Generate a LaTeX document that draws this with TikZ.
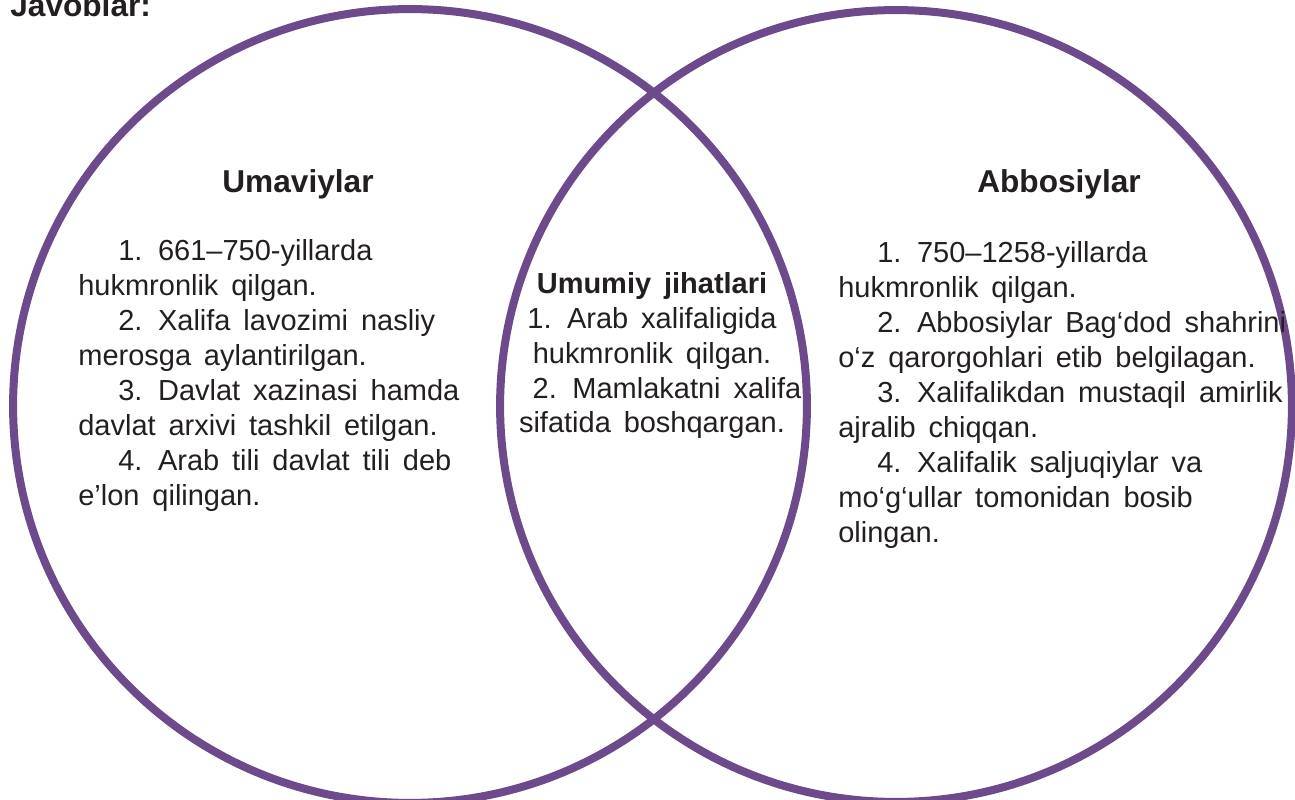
\documentclass[tikz,border=0pt]{standalone}
\usepackage{fontspec}
\setmainfont[WordSpace=1.6]{Liberation Sans}
\definecolor{venn}{RGB}{108,74,140}
\definecolor{ink}{RGB}{35,31,32}

\begin{document}
\begin{tikzpicture}[x=0.02cm, y=-0.02cm,
        ring/.style = {draw=venn, line width=0.16cm},
        head/.style = {font=\fontsize{18}{22}\selectfont\bfseries, text=ink, anchor=base, inner sep=0pt},
        body/.style = {font=\fontsize{16.5}{19.9}\selectfont, text=ink, align=left, anchor=base west, inner sep=0pt} ]
        \useasboundingbox (0,0) rectangle (1295,800);

        \coordinate (cl) at (410,406);
        \coordinate (cr) at (896,406);
        \draw[ring] (cl) circle[radius=7.94cm];
        \draw[ring] (cr) circle[radius=7.92cm];

        \node at (10,17) [head, anchor=base west] (title) {Javoblar:};
        \node at (298,193) [head] (umav) {Umaviylar};
        \node at (1059,193) [head] (abbos) {Abbosiylar};

        % multi-line nodes sit on the baseline of their last line
        \node at (78,505) [body] (umavtext) {%
            \hspace*{0.8cm}1. 661–750-yillarda\\
            hukmronlik qilgan.\\
            \hspace*{0.8cm}2. Xalifa lavozimi nasliy\\
            merosga aylantirilgan.\\
            \hspace*{0.8cm}3. Davlat xazinasi hamda\\
            davlat arxivi tashkil etilgan.\\
            \hspace*{0.8cm}4. Arab tili davlat tili deb\\
            e’lon qilingan.};

        \node at (652,433) [body, align=center, anchor=base] (common) {%
            \textbf{Umumiy jihatlari}\\
            1. Arab xalifaligida\\
            hukmronlik qilgan.\\
            \hspace*{0.6cm}2. Mamlakatni xalifa\\
            sifatida boshqargan.};

        \node at (838,542) [body] (abbostext) {%
            \hspace*{0.78cm}1. 750–1258-yillarda\\
            hukmronlik qilgan.\\
            \hspace*{0.78cm}2. Abbosiylar Bag‘dod shahrini\\
            o‘z qarorgohlari etib belgilagan.\\
            \hspace*{0.78cm}3. Xalifalikdan mustaqil amirlik\\
            ajralib chiqqan.\\
            \hspace*{0.78cm}4. Xalifalik saljuqiylar va\\
            mo‘g‘ullar tomonidan bosib\\
            olingan.};

    \end{tikzpicture}
\end{document}
